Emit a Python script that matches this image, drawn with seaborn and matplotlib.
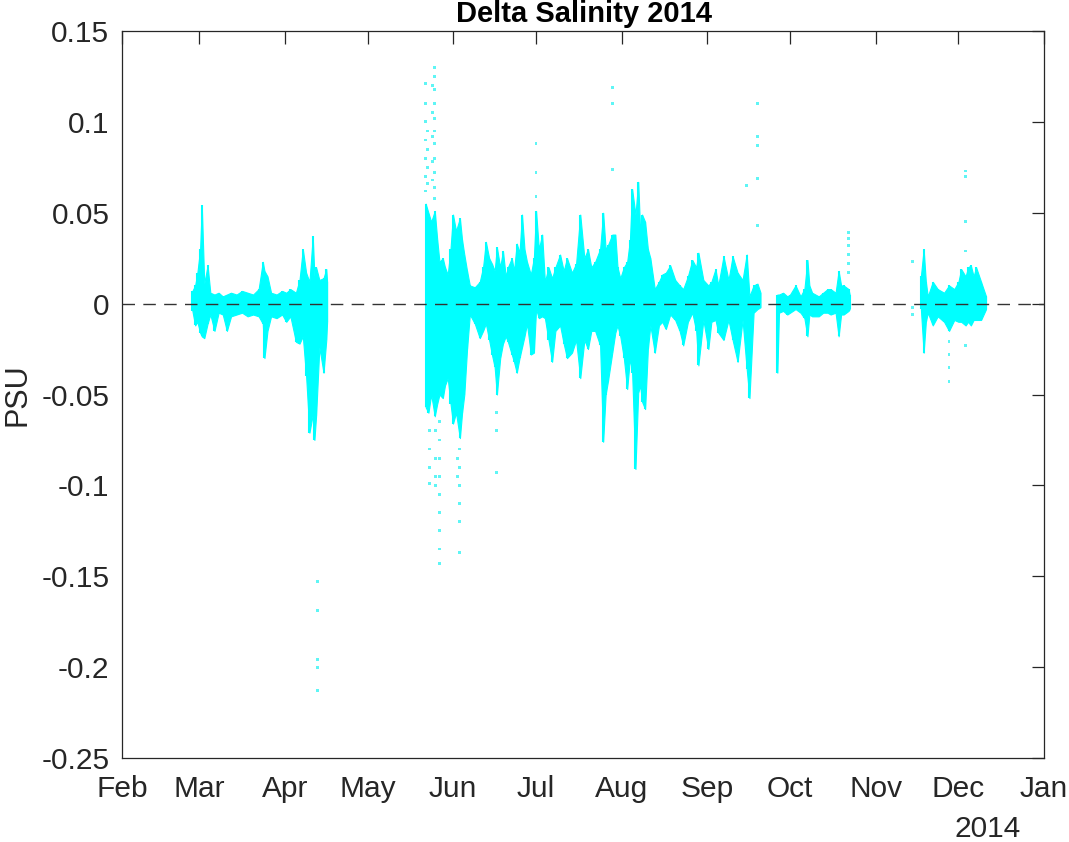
import numpy as np
import pandas as pd
import matplotlib
matplotlib.use("Agg")
import matplotlib.pyplot as plt
import matplotlib.dates as mdates
import seaborn as sns

# ---------------- data (day of year 2014, Jan 1 = 0) ----------------
seg1_day = [56.5, 57.5, 58.3, 59.3, 59.9, 60.8, 62.0, 63.0, 64.5, 66.0, 67.5, 69.0, 70.5, 72.5,
            74.5, 76.5, 78.5, 80.5, 82.0, 82.6, 83.7, 85.0, 87.0, 89.0, 90.5, 92.0, 94.0, 95.3,
            96.5, 97.7, 98.9, 100.1, 100.7, 101.3, 102.5, 104.0, 105.0, 105.3]
seg1_hi = [0.007, 0.010, 0.017, 0.030, 0.054, 0.011, 0.021, 0.006, 0.005, 0.006, 0.004, 0.005, 0.006, 0.005,
           0.007, 0.006, 0.005, 0.008, 0.023, 0.018, 0.015, 0.006, 0.005, 0.007, 0.006, 0.008, 0.006, 0.013,
           0.030, 0.017, 0.012, 0.037, 0.015, 0.020, 0.013, 0.014, 0.019, 0.012]
seg1_lo = [-0.004, -0.012, -0.010, -0.016, -0.018, -0.019, -0.011, -0.006, -0.015, -0.005, -0.006, -0.015, -0.007, -0.006,
           -0.005, -0.007, -0.006, -0.007, -0.011, -0.030, -0.015, -0.007, -0.008, -0.006, -0.010, -0.007, -0.021, -0.022,
           -0.018, -0.040, -0.071, -0.061, -0.075, -0.062, -0.024, -0.038, -0.020, -0.010]

seg2_day = [141.0, 142.0, 143.0, 144.3, 145.2, 146.0, 147.2, 148.0, 149.0, 150.0, 150.9, 152.0, 153.4, 154.2,
            155.0, 156.0, 157.0, 158.8, 160.6, 161.8, 162.8, 164.0, 165.0, 166.0, 166.8, 168.0, 169.0, 170.0,
            170.8, 172.2, 173.0, 174.0, 175.0, 175.9, 176.8, 177.7, 179.1, 180.2, 181.0, 182.0, 183.2, 184.2,
            185.5, 186.8, 188.0, 189.7, 191.0, 192.2, 194.0, 195.5, 197.0, 198.5, 199.8, 201.0, 202.4, 204.2,
            205.3, 206.2, 207.0, 208.6, 209.7, 210.5, 211.5, 212.8, 214.0, 215.0, 215.8, 217.0, 218.0, 218.7,
            219.4, 220.5, 221.5, 222.4, 224.0, 225.5, 226.7, 228.0, 229.6, 231.4, 233.0, 234.3, 236.0, 237.6,
            239.0, 239.8, 241.6, 243.4, 244.5, 246.0, 247.0, 248.9, 250.7, 252.2, 254.0, 255.8, 257.3, 258.3,
            259.8, 261.2, 262.3]
seg2_hi = [0.055, 0.050, 0.045, 0.051, 0.035, 0.023, 0.025, 0.020, 0.016, 0.030, 0.049, 0.040, 0.047, 0.035,
           0.027, 0.018, 0.010, 0.009, 0.012, 0.020, 0.034, 0.025, 0.022, 0.018, 0.031, 0.020, 0.029, 0.015,
           0.020, 0.025, 0.018, 0.033, 0.028, 0.049, 0.030, 0.023, 0.016, 0.025, 0.051, 0.030, 0.038, 0.012,
           0.020, 0.014, 0.020, 0.027, 0.018, 0.025, 0.017, 0.022, 0.049, 0.025, 0.030, 0.020, 0.023, 0.030,
           0.050, 0.030, 0.032, 0.038, 0.038, 0.020, 0.014, 0.020, 0.023, 0.035, 0.063, 0.049, 0.067, 0.040,
           0.049, 0.045, 0.030, 0.025, 0.008, 0.012, 0.016, 0.017, 0.021, 0.013, 0.010, 0.008, 0.015, 0.024,
           0.020, 0.028, 0.013, 0.010, 0.012, 0.019, 0.010, 0.026, 0.013, 0.026, 0.017, 0.013, 0.027, 0.004,
           0.010, 0.011, 0.006]
seg2_lo = [-0.057, -0.060, -0.050, -0.062, -0.055, -0.050, -0.052, -0.045, -0.041, -0.055, -0.066, -0.060, -0.074, -0.060,
           -0.050, -0.025, -0.006, -0.011, -0.019, -0.015, -0.011, -0.020, -0.028, -0.035, -0.050, -0.030, -0.022, -0.018,
           -0.021, -0.028, -0.032, -0.038, -0.030, -0.024, -0.018, -0.011, -0.028, -0.027, -0.003, -0.008, -0.007, -0.008,
           -0.020, -0.032, -0.015, -0.012, -0.022, -0.030, -0.027, -0.020, -0.041, -0.020, -0.025, -0.015, -0.015, -0.023,
           -0.076, -0.050, -0.043, -0.027, -0.016, -0.012, -0.018, -0.030, -0.047, -0.030, -0.038, -0.091, -0.049, -0.045,
           -0.054, -0.058, -0.025, -0.012, -0.027, -0.012, -0.010, -0.014, -0.006, -0.009, -0.015, -0.023, -0.010, -0.005,
           -0.015, -0.034, -0.009, -0.025, -0.010, -0.009, -0.016, -0.020, -0.009, -0.020, -0.032, -0.009, -0.036, -0.052,
           -0.005, -0.003, -0.002]

seg3_day = [268.4, 269.0, 270.5, 272.0, 273.0, 275.0, 276.8, 278.2, 279.3, 280.0, 281.0, 283.4, 285.0, 286.6,
            287.7, 289.5, 290.6, 291.5, 292.4, 294.2, 294.6]
seg3_hi = [0.005, 0.005, 0.006, 0.004, 0.005, 0.010, 0.004, 0.008, 0.024, 0.010, 0.006, 0.004, 0.006, 0.008,
           0.008, 0.006, 0.018, 0.010, 0.010, 0.008, 0.005]
seg3_lo = [-0.038, -0.005, -0.004, -0.006, -0.005, -0.003, -0.005, -0.008, -0.018, -0.006, -0.007, -0.007, -0.005, -0.005,
           -0.006, -0.005, -0.018, -0.006, -0.006, -0.004, -0.003]

seg4_day = [320.4, 321.4, 322.2, 322.9, 324.7, 326.5, 328.8, 330.6, 332.5, 334.0, 335.0, 336.6, 337.5, 338.5,
            339.5, 340.4, 342.2, 344.0]
seg4_hi = [0.015, 0.030, 0.012, 0.004, 0.012, 0.008, 0.006, 0.010, 0.008, 0.012, 0.019, 0.015, 0.020, 0.021,
           0.015, 0.020, 0.012, 0.004]
seg4_lo = [-0.003, -0.027, -0.010, -0.005, -0.012, -0.007, -0.010, -0.015, -0.009, -0.010, -0.010, -0.012, -0.010, -0.012,
           -0.009, -0.009, -0.009, -0.003]

# isolated samples outside the dense band
outlier_day = [141.0, 141.0, 141.0, 141.0, 141.0, 141.0, 141.0, 141.6, 141.6, 141.6, 141.6,
               143.6, 143.6, 143.6, 143.6, 143.6,
               144.3, 144.3, 144.3, 144.3, 144.3, 144.3, 144.3, 144.3, 144.3, 144.3, 144.3,
               142.5, 142.5, 142.5, 142.5, 144.5, 144.5, 144.5, 144.5,
               146.0, 146.0, 146.0, 146.0, 146.0, 146.0, 146.0, 146.0, 146.0,
               152.5, 152.5, 153.4, 153.4, 153.4, 153.4, 153.4, 153.4,
               166.8, 166.8, 166.8,
               181.0, 181.0, 181.0, 208.6, 208.6, 208.6,
               257.3, 261.2, 261.2, 261.2, 261.2, 261.2,
               294.2, 294.2, 294.2, 294.2, 294.2, 294.2,
               317.4, 317.4, 317.4,
               330.6, 330.6, 330.6, 330.6,
               336.6, 336.6, 336.6, 336.6, 336.6,
               101.8, 101.8, 101.8, 101.8, 101.8]
outlier_val = [0.121, 0.110, 0.100, 0.090, 0.080, 0.070, 0.062, 0.095, 0.085, 0.075, 0.066,
               0.120, 0.105, 0.092, 0.078, 0.068,
               0.130, 0.125, 0.118, 0.110, 0.102, 0.095, 0.088, 0.080, 0.072, 0.064, 0.058,
               -0.070, -0.080, -0.090, -0.099, -0.070, -0.085, -0.095, -0.100,
               -0.065, -0.075, -0.085, -0.095, -0.105, -0.115, -0.125, -0.135, -0.143,
               -0.085, -0.095, -0.080, -0.090, -0.100, -0.110, -0.120, -0.137,
               -0.060, -0.070, -0.093,
               0.059, 0.072, 0.088, 0.074, 0.110, 0.119,
               0.065, 0.043, 0.069, 0.087, 0.092, 0.110,
               0.017, 0.022, 0.027, 0.032, 0.036, 0.039,
               0.023, -0.002, -0.006,
               -0.021, -0.028, -0.035, -0.043,
               0.045, 0.070, 0.073, 0.029, -0.023,
               -0.153, -0.169, -0.196, -0.200, -0.213]

title_text = "Delta Salinity 2014"
y_label = "PSU"
ytick_vals = [0.15, 0.1, 0.05, 0, -0.05, -0.1, -0.15, -0.2, -0.25]
ytick_labels = ["0.15", "0.1", "0.05", "0", "-0.05", "-0.1", "-0.15", "-0.2", "-0.25"]

# ---------------- plotting ----------------
sns.set_style("white")
plt.rcParams["font.family"] = ["Liberation Sans", "DejaVu Sans"]

base = pd.Timestamp("2014-01-01")
def to_dates(days):
    return base + pd.to_timedelta(np.asarray(days, dtype=float), unit="D")

CYAN = "#00ffff"
DARK = "#262626"

fig = plt.figure(figsize=(10.69, 8.42), dpi=100)
ax = fig.add_axes([122 / 1069, 1 - 758 / 842, (1044 - 122) / 1069, (758 - 31) / 842])

segments = [(seg1_day, seg1_hi, seg1_lo), (seg2_day, seg2_hi, seg2_lo),
            (seg3_day, seg3_hi, seg3_lo), (seg4_day, seg4_hi, seg4_lo)]
for d, hi, lo in segments:
    t = to_dates(d)
    ax.fill_between(t, lo, hi, color=CYAN, linewidth=0.8, edgecolor=CYAN)
    ax.vlines(t, lo, hi, color=CYAN, linewidth=1.5)

df_out = pd.DataFrame({"time": to_dates(outlier_day), "val": outlier_val})
sns.scatterplot(data=df_out, x="time", y="val", ax=ax, color="#5ff5f5", s=4,
                edgecolor="none", marker="s", zorder=3)

ax.axhline(0, color="#333333", linewidth=1.0, linestyle=(0, (9, 6)), zorder=4)

ax.set_xlim(pd.Timestamp("2014-02-01"), pd.Timestamp("2015-01-01"))
ax.set_ylim(-0.25, 0.15)
ax.xaxis.set_major_locator(mdates.MonthLocator())
ax.xaxis.set_major_formatter(mdates.DateFormatter("%b"))
ax.set_yticks(ytick_vals)
ax.set_yticklabels(ytick_labels)

ax.tick_params(axis="both", direction="in", length=9, width=0.9, top=True, right=True,
               labelsize=21.5, colors=DARK, pad=9)
ax.tick_params(axis="x", pad=12)
for sp in ax.spines.values():
    sp.set_color(DARK)
    sp.set_linewidth(0.9)
    sp.set_visible(True)

ax.set_xlabel("")
ax.set_ylabel(y_label, fontsize=22, color=DARK)
ax.yaxis.set_label_coords((33 - 122) / 922, 0.5)
fig.text(584 / 1069, 1 - 22 / 842, title_text, ha="center", va="baseline",
         fontsize=21, fontweight="bold", color="black")
fig.text(988 / 1069, 1 - 837 / 842, "2014", ha="center", va="baseline",
         fontsize=21.5, color=DARK)

fig.savefig("out.png", dpi=100)
